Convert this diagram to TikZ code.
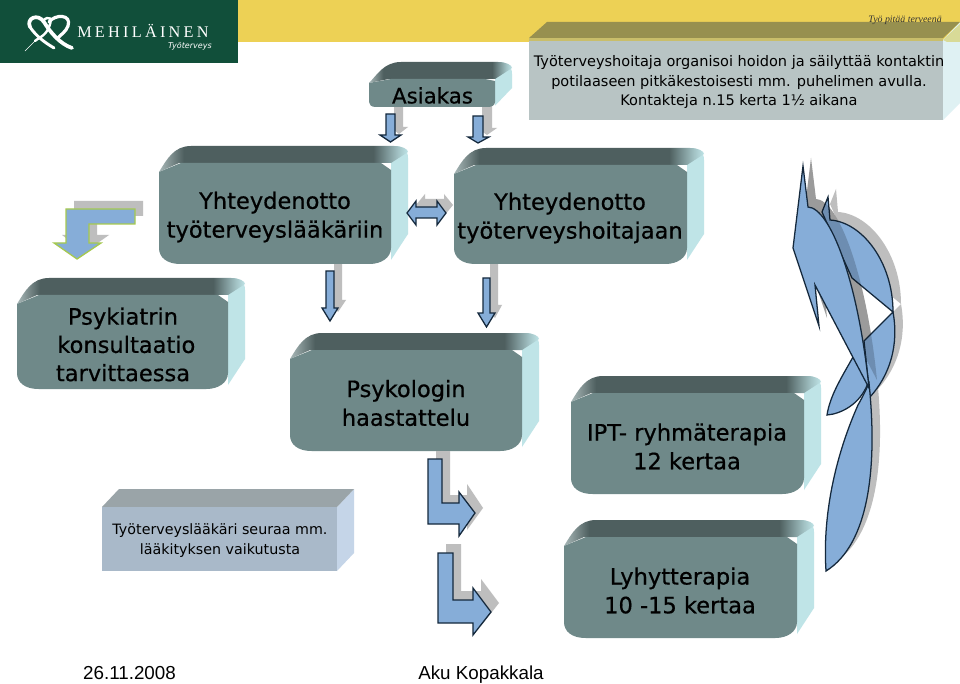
\documentclass[tikz,border=0pt]{standalone}
\usepackage{fontspec}
\setmainfont{DejaVu Sans}
\newfontfamily\boldish[FakeBold=0.6]{DejaVu Sans}
\newfontfamily\lib{Liberation Sans}
\newfontfamily\logofont[LetterSpace=20]{Liberation Serif}
\newfontfamily\italfont{Liberation Serif}
\definecolor{frontc}{HTML}{6F8989}
\definecolor{topc}{HTML}{4E5F5F}
\definecolor{sidec}{HTML}{BFE4E7}
\definecolor{bluec}{HTML}{86ADD8}
\definecolor{edgec}{HTML}{14283C}
\definecolor{shadowc}{HTML}{BEBEBE}
\definecolor{greenc}{HTML}{114F3A}
\definecolor{yellowc}{HTML}{EDD155}
\definecolor{limec}{HTML}{A6C94F}
\definecolor{notetop}{HTML}{97904F}
\definecolor{notefront}{HTML}{B8C4C4}
\definecolor{noteedge}{HTML}{C9BE6A}
\definecolor{greyside}{HTML}{C5D5E8}
\definecolor{greytop}{HTML}{9AA4A8}
\definecolor{greyfront}{HTML}{A9B9C9}
\pgfdeclarehorizontalshading{topfaceshade}{100bp}{color(0bp)=(frontc!60!white); color(25bp)=(frontc!60!white); color(30bp)=(topc); color(68bp)=(topc); color(73bp)=(sidec!75!topc); color(75bp)=(sidec); color(100bp)=(sidec)}
\tikzset{
  blockshadow/.style={fill=shadowc,draw=none},
  blockblue/.style={fill=bluec,draw=edgec,line width=0.95pt,line join=miter},
  boxtext/.style={font=\fontsize{16.9}{21.6}\boldish,align=center,text=black,inner sep=0pt},
  smalltext/.style={font=\fontsize{10.7}{15}\selectfont,align=center,text=black,inner sep=0pt},
  foottext/.style={font=\fontsize{14.1}{18}\lib,text=black,inner sep=0pt,anchor=base},
}
\def\rrad{16}
\def\cham{9}
% x0,y0,x1,y1,d
\newcommand{\bevelbox}[5]{%
  \fill[sidec] ({#3},{#2}) -- ({#3+#5-14},{#2-#5}) .. controls ({#3+#5-6},{#2-#5}) and ({#3+#5},{#2-#5+3}) .. ({#3+#5},{#2-#5+12}) -- ({#3+#5},{#4-#5-\rrad+3}) -- ({#3},{#4-\rrad/4}) -- cycle;
  \path[shading=topfaceshade] ({#1},{#2+\cham}) .. controls ({#1+8},{#2-4}) and ({#1+15},{#2-#5}) .. ({#1+32},{#2-#5}) -- ({#3+#5-14},{#2-#5}) .. controls ({#3+#5-6},{#2-#5}) and ({#3+#5},{#2-#5+3}) .. ({#3+#5},{#2-#5+6}) -- ({#3},{#2}) -- ({#1+20},{#2}) -- cycle;
  \fill[frontc] ({#1},{#2+\cham}) -- ({#1+22},{#2}) -- ({#3-10},{#2}) -- ({#3},{#2+\cham-2}) -- ({#3},{#4-\rrad}) .. controls ({#3},{#4-\rrad*0.4}) and ({#3-\rrad*0.6},{#4}) .. ({#3-\rrad*1.35},{#4}) -- ({#1+\rrad*1.35},{#4}) .. controls ({#1+\rrad*0.5},{#4}) and ({#1},{#4-\rrad*0.4}) .. ({#1},{#4-\rrad}) -- cycle;
}
% vertical down arrow: xl,xr,ytop,yhead,hl,hr,tipx,tipy
\newcommand{\downblock}[9][blockblue]{%
  \path[#1] ({#2},{#4}) -- ({#3},{#4}) -- ({#3},{#5}) -- ({#7},{#5}) -- ({#8},{#9}) -- ({#6},{#5}) -- ({#2},{#5}) -- cycle;
}
\begin{document}
\begin{tikzpicture}[x=0.75pt,y=-0.75pt]
\useasboundingbox (0,0) rectangle (960,684);
\fill[white] (0,0) rectangle (960,684);
% band and logo
\fill[yellowc] (238,0) rectangle (960,42);
\fill[greenc] (0,0) rectangle (238,63);
\begin{scope}[line cap=round]
  \draw[white,line width=2.8pt] (30,27) .. controls (26,18) and (38,13) .. (44,22) .. controls (50,32) and (60,44) .. (72,48);
  \draw[white,line width=2.2pt] (30,27) .. controls (36,36) and (44,42) .. (54,48);
  \draw[white,line width=1.8pt] (43,21) .. controls (48,15) and (55,17) .. (47,31) .. controls (42,38) and (38,38) .. (35,41);
  \draw[white,line width=0.5pt] (35,41) -- (25,51);
  \draw[white,line width=2.4pt] (49,22) .. controls (55,14) and (72,14) .. (68,26) .. controls (66,32) and (60,35) .. (57,39);
\end{scope}
\node[anchor=west,inner sep=0pt,text=white,font=\fontsize{12.2}{14}\logofont] (logoname) at (77,30.5) {MEHILÄINEN};
\node[anchor=east,inner sep=0pt,text=white,font=\fontsize{6}{7}\itshape] (logosub) at (212,46) {Työterveys};
% top text box
\fill[sidec!50!white] (943,40) -- (960,22) -- (960,103) -- (943,120) -- cycle;
\fill[yellowc!55!sidec] (943,40) -- (960,24) -- (960,42) -- (947,42) -- cycle;
\fill[notetop] (529,38) -- (547,22) -- (960,22) -- (943,38) -- cycle;
\fill[notefront] (529,40) rectangle (943,120);
\fill[noteedge] (529,38) rectangle (943,41);
\node[anchor=east,inner sep=0pt,font=\fontsize{7.4}{9}\italfont\itshape,text=black!80] (slogan) at (942,20.5) {Työ pitää terveenä};
\node[smalltext,font=\fontsize{10.9}{14.3}\selectfont] (note) at (739,82) {Työterveyshoitaja organisoi hoidon ja säilyttää kontaktin\\potilaaseen pitkäkestoisesti mm. puhelimen avulla.\\Kontakteja n.15 kerta 1½ aikana};
% arrows under Asiakas
\downblock[blockshadow]{394}{403}{104}{127}{390}{408}{399}{134}
\downblock[blockshadow]{482}{492}{104}{128}{477}{497}{487}{135}
% boxes
\begingroup\def\rrad{5}\def\cham{4}
\bevelbox{369}{79}{495}{107}{17}
\endgroup
\node[boxtext,font=\fontsize{16}{20}\boldish] (asiakas) at (432.5,95.5) {Asiakas};
\downblock{386}{395}{114}{135}{380}{401}{390.5}{142}
\downblock{473}{483}{116}{137}{468}{489}{478}{143}
\downblock[blockshadow]{334}{342}{262}{300}{329}{346}{338}{312}
\downblock[blockshadow]{490}{498}{262}{305}{485}{502}{495}{318}
\bevelbox{159}{163}{391}{264}{17}
\node[boxtext] (ytl) at (275,217) {Yhteydenotto\\työterveyslääkäriin};
\bevelbox{454}{165}{687}{264}{17}
\node[boxtext] (yhoit) at (570,218) {Yhteydenotto\\työterveyshoitajaan};
\bevelbox{17}{295}{228}{389}{17}
\node[boxtext,font=\fontsize{16.9}{21.2}\boldish] (psyk) at (123,344.5) {Psykiatrin\\\hspace*{5pt}konsultaatio\\tarvittaessa};
\downblock{326}{334}{271}{308}{322}{338}{330}{321}
\downblock{483}{490}{278}{313}{478}{495}{486.5}{327}
\bevelbox{290}{350}{522}{451}{17}
\node[boxtext] (psykol) at (406,403) {Psykologin\\haastattelu};
\bevelbox{571}{393}{804}{494}{17}
\node[boxtext] (ipt) at (687,446.5) {IPT- ryhmäterapia\\12 kertaa};
\bevelbox{564}{537}{797}{638}{17}
\node[boxtext] (lyhyt) at (680,590.5) {Lyhytterapia\\10 -15 kertaa};
% double arrow
\path[blockshadow] (416,205) -- (425,194) -- (425,199) -- (444,199) -- (444,194) -- (453,205) -- (444,216) -- (444,211) -- (425,211) -- (425,216) -- cycle;
\path[blockblue] (407,213) -- (416,201) -- (416,207) -- (437,207) -- (437,201) -- (446,213) -- (437,225) -- (437,218) -- (416,218) -- (416,225) -- cycle;
% corner arrow
\path[blockshadow] (74,201) -- (143,201) -- (143,216) -- (97,216) -- (97,235) -- (109,235) -- (85,252) -- (62,235) -- (74,235) -- cycle;
\path[fill=bluec,draw=limec,line width=0.95pt] (66,209) -- (135,209) -- (135,224) -- (89,224) -- (89,243) -- (101,243) -- (77,259) -- (54,243) -- (66,243) -- cycle;
% L arrows
\path[blockshadow] (436,451) -- (450,451) -- (450,495) -- (467,495) -- (467,484) -- (483,508) -- (467,530) -- (467,516) -- (436,516) -- cycle;
\path[blockblue] (428,459) -- (442,459) -- (442,503) -- (459,503) -- (459,492) -- (475,513) -- (459,536) -- (459,524) -- (428,524) -- cycle;
\path[blockshadow] (446,544) -- (461,544) -- (461,591) -- (481,591) -- (481,579) -- (499,603) -- (481,626) -- (481,614) -- (446,614) -- cycle;
\path[blockblue] (438,553) -- (453,553) -- (453,600) -- (473,600) -- (473,588) -- (491,612) -- (473,635) -- (473,623) -- (438,623) -- cycle;
% lower-left grey box
\fill[greyside] (337,507) -- (354,489) -- (354,553) -- (337,571) -- cycle;
\fill[greytop] (102,507) -- (119,489) -- (354,489) -- (337,507) -- cycle;
\fill[greyfront] (102,507) rectangle (337,571);
\node[smalltext] (seuraa) at (220,541) {Työterveyslääkäri seuraa mm.\\lääkityksen vaikutusta};
% circular arrows: shadows
\begin{scope}[shift={(8,-8)}]
  \path[blockshadow] (803,166) -- (808,207) .. controls (830,208) and (858,280) .. (869,388) -- (815,285) -- (819,326) -- (793,248) -- cycle;
  \path[blockshadow] (828,197) -- (830,220) .. controls (862,222) and (893,262) .. (893,312) -- (852,278) -- (830,230) -- (822,212) -- cycle;
  \path[blockshadow] (893,312) .. controls (899,345) and (890,375) .. (870,397) -- (864,341) -- cycle;
  \path[blockshadow] (869,385) .. controls (878,470) and (868,545) .. (826,571) -- (858,405) -- cycle;
\end{scope}
% circular arrows
\path[blockblue] (828,197) -- (830,220) .. controls (862,222) and (893,262) .. (893,312) -- (852,278) -- (830,230) -- (822,212) -- cycle;
\path[blockblue] (893,312) .. controls (899,345) and (890,375) .. (870,397) -- (869,388) -- (864,341) -- cycle;
\begin{scope}[shift={(8,-8)}]
  \path[fill=black,fill opacity=0.18] (803,166) -- (808,207) .. controls (830,208) and (858,280) .. (869,388) -- (815,285) -- (819,326) -- (793,248) -- cycle;
\end{scope}
\path[blockblue] (853,357) .. controls (843,375) and (830,395) .. (827,415) .. controls (840,414) and (860,405) .. (868,383) -- cycle;
\path[blockblue] (869,383) .. controls (878,470) and (868,545) .. (826,571) .. controls (822,510) and (838,450) .. (858,405) .. controls (862,398) and (866,390) .. (869,383) -- cycle;
\path[blockblue] (803,166) -- (808,207) .. controls (830,208) and (858,280) .. (869,388) -- (815,285) -- (819,326) -- (793,248) -- cycle;
% footer
\node[foottext] (datef) at (129.5,679) {26.11.2008};
\node[foottext] (author) at (481,679) {Aku Kopakkala};
\end{tikzpicture}
\end{document}
